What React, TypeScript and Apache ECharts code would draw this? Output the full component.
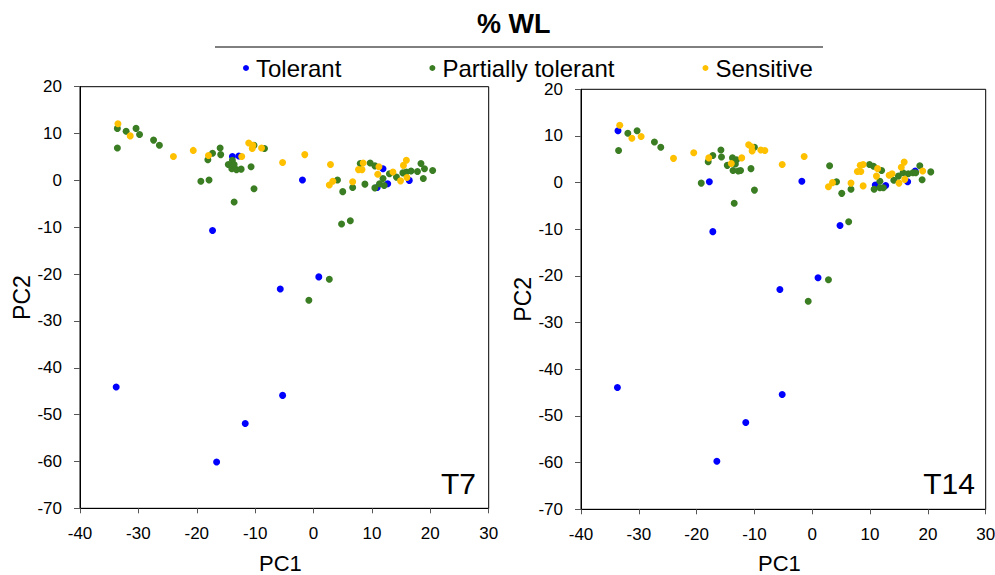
import React, { useEffect, useRef } from "react";
import * as echarts from "echarts";

const titleText = "% WL";
const seriesNames = ["Tolerant", "Partially tolerant", "Sensitive"];
const seriesColors = ["#0000FF", "#3A7D22", "#FFC000"];
const panelLabels = ["T7", "T14"];
const xName = "PC1";
const yName = "PC2";

// T7 panel
const t7Tolerant: number[][] = [
  [-13.9, 5.1], [-12.8, 5.2], [-1.9, 0.1], [11.9, 2.5], [10.9, -1.5], [12.7, -0.7], [16.4, 0.0],
  [-17.3, -10.7], [0.9, -20.6], [-5.7, -23.2], [-33.8, -44.1], [-5.3, -45.9], [-11.7, -51.9], [-16.6, -60.1],
];
const t7Partial: number[][] = [
  [-33.6, 11.1], [-32.1, 10.5], [-30.4, 11.1], [-29.8, 9.8], [-33.6, 6.9], [-27.4, 8.6], [-26.4, 7.5],
  [-18.1, 4.4], [-17.3, 5.8], [-16.0, 6.9], [-15.9, 5.5], [-14.6, 3.4], [-13.9, 4.3], [-14.0, 2.5],
  [-13.2, 2.3], [-12.4, 2.4], [-13.6, 3.4], [-10.2, 7.5], [-8.4, 6.8], [-10.7, 2.9], [-19.3, -0.2],
  [-17.9, 0.1], [-10.2, -1.8], [-13.6, -4.6], [4.1, 0.1], [5.0, -2.4], [6.7, -1.5], [8.0, 3.6],
  [9.7, 3.7], [10.5, 3.1], [8.8, -0.8], [10.5, -1.6], [11.3, -0.7], [12.1, -1.1], [11.9, 0.4],
  [13.0, 1.4], [14.2, 0.7], [15.3, 1.6], [15.9, 1.8], [16.7, 2.0], [17.8, 1.9], [18.4, 3.6],
  [19.0, 2.5], [18.8, 0.4], [20.4, 2.1], [4.8, -9.3], [6.3, -8.6], [2.7, -21.1], [-0.8, -25.6],
];
const t7Sensitive: number[][] = [
  [-33.5, 12.1], [-31.4, 9.5], [-24.0, 5.1], [-20.6, 6.4], [-18.0, 5.3], [-12.3, 5.1], [-11.1, 8.0],
  [-10.4, 7.5], [-10.5, 6.8], [-8.9, 6.9], [-5.3, 3.8], [-1.5, 5.5], [2.9, 3.4], [3.3, -0.2],
  [2.7, -1.0], [6.7, -0.3], [8.5, 3.7], [7.7, 2.3], [8.3, 2.3], [11.2, 2.9], [11.0, 1.3],
  [13.6, 1.8], [14.9, -0.1], [16.0, 0.6], [15.4, 3.2], [15.9, 4.3],
];

// T14 panel
const t14Tolerant: number[][] = [
  [-33.6, 11.1], [-17.8, 0.2], [-1.8, 0.3], [10.9, -0.5], [12.7, -0.6], [16.5, 0.2], [17.8, 2.5],
  [-17.2, -10.5], [4.8, -9.2], [1.0, -20.4], [-5.6, -22.9], [-33.7, -43.9], [-5.2, -45.4],
  [-11.5, -51.4], [-16.5, -59.7],
];
const t14Partial: number[][] = [
  [-31.9, 10.6], [-30.3, 11.1], [-33.5, 6.9], [-27.3, 8.7], [-26.2, 7.6], [-18.0, 4.5], [-17.2, 5.8],
  [-15.8, 7.0], [-15.7, 5.5], [-13.8, 5.3], [-13.1, 4.9], [-14.7, 3.7], [-13.7, 2.6], [-12.8, 2.5],
  [-12.4, 2.6], [-13.3, 4.0], [-10.6, 3.0], [-10.0, -1.6], [-13.5, -4.4], [-19.2, -0.1], [-10.0, 7.6],
  [3.0, 3.6], [4.2, 0.2], [5.1, -2.3], [6.7, -1.4], [9.9, 3.9], [10.6, 3.5], [12.0, 2.6],
  [10.7, -1.4], [11.7, -1.1], [12.3, -1.1], [11.7, 0.3], [14.1, 0.5], [14.9, 1.4], [15.7, 2.1],
  [16.6, 1.9], [17.4, 2.1], [17.9, 2.1], [18.6, 3.6], [19.0, 0.6], [20.5, 2.3], [6.3, -8.4],
  [2.8, -20.8], [-0.7, -25.4],
];
const t14Sensitive: number[][] = [
  [-33.3, 12.3], [-31.2, 9.5], [-29.6, 9.9], [-24.0, 5.2], [-20.5, 6.4], [-17.9, 5.3], [-14.0, 4.1],
  [-12.2, 5.3], [-11.0, 8.1], [-10.5, 7.7], [-10.4, 6.8], [-8.9, 7.0], [-8.2, 6.9], [-5.2, 3.9],
  [-1.4, 5.6], [2.8, -0.9], [3.5, 0.0], [6.7, -0.1], [8.8, -0.7], [7.8, 2.4], [8.4, 2.4],
  [8.3, 3.7], [8.8, 3.9], [11.3, 3.0], [11.1, 1.4], [13.3, 1.6], [13.8, 1.9], [15.0, -0.1],
  [16.0, 0.7], [15.4, 3.3], [15.9, 4.4], [19.1, 2.5],
];

const xMin = -40, xMax = 30, xStep = 10;
const yMin = -70, yMax = 20, yStep = 10;

export default function App() {
  const ref = useRef<HTMLDivElement>(null);
  useEffect(() => {
    if (!ref.current) return;
    const chart = echarts.init(ref.current, null, { renderer: "svg" });
    const font = "'Liberation Sans', Arial, sans-serif";
    const grids = [
      { left: 80, top: 86.7, width: 408.7, height: 421.6 },
      { left: 581, top: 89.3, width: 404.7, height: 420 },
    ];
    const xNameGaps = [45, 44];
    const panels = [
      [t7Tolerant, t7Partial, t7Sensitive],
      [t14Tolerant, t14Partial, t14Sensitive],
    ];
    const series: any[] = [];
    panels.forEach((p, gi) => {
      p.forEach((data, si) => {
        series.push({
          type: "scatter",
          name: seriesNames[si],
          xAxisIndex: gi,
          yAxisIndex: gi,
          data,
          symbol: "circle",
          symbolSize: 7,
          itemStyle: { color: seriesColors[si], opacity: 1 },
          emphasis: { disabled: true },
          z: 2 + si,
        });
      });
    });
    const option: any = {
      animation: false,
      textStyle: { fontFamily: font },
      title: {
        text: titleText,
        left: 477,
        top: 10,
        padding: 0,
        textStyle: { fontSize: 27, fontWeight: "bold", color: "#000", fontFamily: font },
      },
      legend: {
        data: seriesNames,
        left: 243,
        top: 56,
        padding: 0,
        icon: "circle",
        itemWidth: 10,
        itemHeight: 6,
        itemGap: 88,
        textStyle: { fontSize: 24, color: "#000", fontFamily: font },
      },
      grid: grids.map((g) => ({
        ...g,
        show: true,
        borderColor: "#000",
        borderWidth: 1,
        backgroundColor: "transparent",
        containLabel: false,
        outerBoundsMode: "none",
      })),
      xAxis: grids.map((_, i) => ({
        type: "value",
        gridIndex: i,
        min: xMin,
        max: xMax,
        interval: xStep,
        name: xName,
        nameLocation: "middle",
        nameGap: xNameGaps[i],
        nameTextStyle: {
          fontSize: 22,
          lineHeight: 20,
          color: "#000",
          fontFamily: font,
          padding: [0, 8, 0, 0],
        },
        axisLine: { show: true, onZero: false, lineStyle: { color: "#000", width: 1 } },
        axisTick: { show: true, inside: false, length: 5, lineStyle: { color: "#555" } },
        axisLabel: { fontSize: 17, color: "#000", margin: 17, fontFamily: font },
        splitLine: { show: false },
      })),
      yAxis: grids.map((_, i) => ({
        type: "value",
        gridIndex: i,
        min: yMin,
        max: yMax,
        interval: yStep,
        name: yName,
        nameLocation: "middle",
        nameGap: 45,
        nameRotate: 90,
        nameTextStyle: { fontSize: 23, color: "#000", fontFamily: font },
        axisLine: { show: true, onZero: false, lineStyle: { color: "#000", width: 1 } },
        axisTick: { show: true, inside: false, length: 6, lineStyle: { color: "#555" } },
        axisLabel: { fontSize: 17, color: "#000", margin: 18, fontFamily: font },
        splitLine: { show: false },
      })),
      graphic: [
        {
          type: "line",
          shape: { x1: 215, y1: 47, x2: 823, y2: 47 },
          style: { stroke: "#000", lineWidth: 1 },
        },
        {
          type: "text",
          x: 476,
          y: 498,
          style: {
            text: panelLabels[0],
            fontSize: 30,
            fill: "#000",
            fontFamily: font,
            textAlign: "right",
            textVerticalAlign: "bottom",
          },
        },
        {
          type: "text",
          x: 975,
          y: 498,
          style: {
            text: panelLabels[1],
            fontSize: 30,
            fill: "#000",
            fontFamily: font,
            textAlign: "right",
            textVerticalAlign: "bottom",
          },
        },
      ],
      series,
    };
    chart.setOption(option);
    return () => chart.dispose();
  }, []);
  return (
    <div
      ref={ref}
      style={{ position: "absolute", left: 0, top: 0, width: 995, height: 575 }}
    />
  );
}
